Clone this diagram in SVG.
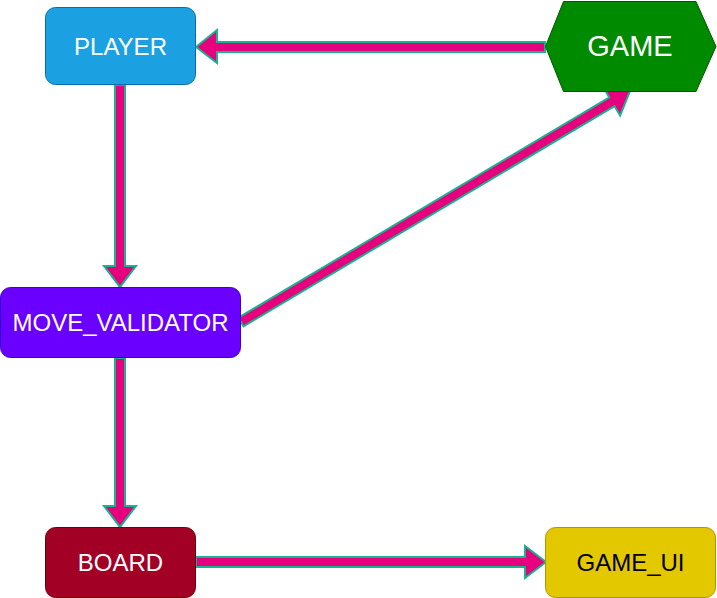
<svg xmlns="http://www.w3.org/2000/svg" width="717" height="598" viewBox="0 0 717 598">
<style>
.lbl{font-family:"Liberation Sans",Arial,sans-serif;font-size:24px;text-anchor:middle;fill:#ffffff}
.arr{fill:#E6007E;stroke:#1AB28C;stroke-width:2;stroke-linejoin:miter}
</style>
<rect width="717" height="598" fill="#ffffff"/>
<g id="connectors">
<polygon class="arr" points="545,42 217,42 217,30 196,47 217,63 217,52 545,52"/>
<polygon class="arr" points="115,85 115,266 104,266 120,287 136,266 125,266 125,85"/>
<polygon class="arr" points="238.45,317.70 609.39,97.42 603.77,87.96 630,91 620.11,115.48 614.49,106.02 243.55,326.30"/>
<polygon class="arr" points="115,358 115,506 104,506 120,527 136,506 125,506 125,358"/>
<polygon class="arr" points="196,557 525,557 525,546 546,562 525,578 525,567 196,567"/>
</g>
<g id="player">
<rect x="45.5" y="7.5" width="150" height="77" rx="10" fill="#1BA1E2" stroke="#006EAF"/>
<text class="lbl" x="120.5" y="54.5">PLAYER</text>
</g>
<g id="game">
<polygon points="545.5,46.5 563.5,1.5 696,1.5 716,46.5 696,91.5 563.5,91.5" fill="#008A00" stroke="#005700"/>
<text class="lbl" x="630" y="56" style="font-size:29px">GAME</text>
</g>
<g id="move_validator">
<rect x="0.5" y="287.5" width="240" height="70" rx="10" fill="#6A00FF" stroke="#3700CC"/>
<text class="lbl" x="120.5" y="330.5">MOVE_VALIDATOR</text>
</g>
<g id="board">
<rect x="45.5" y="527.5" width="150" height="70" rx="10" fill="#A20025" stroke="#6F0000"/>
<text class="lbl" x="120.5" y="570.5">BOARD</text>
</g>
<g id="game_ui">
<rect x="545.5" y="527.5" width="170" height="70" rx="10" fill="#E3C800" stroke="#B09500"/>
<text class="lbl" x="630.5" y="570.5" style="fill:#000000">GAME_UI</text>
</g>
</svg>
